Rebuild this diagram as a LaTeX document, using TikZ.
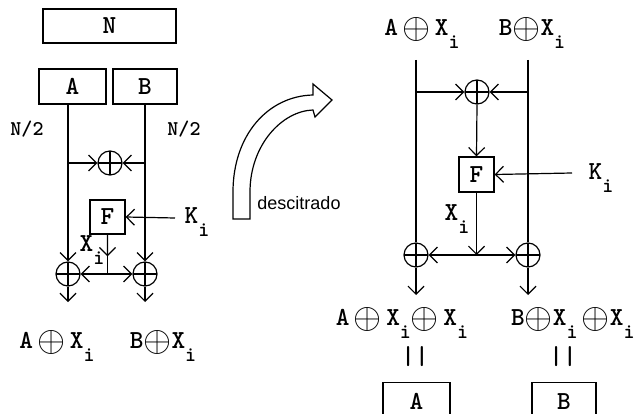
\documentclass[tikz,border=0pt]{standalone}
\usepackage{fontspec}
\newfontfamily\sansf{Liberation Sans}
\usepackage{tikz}
\usetikzlibrary{arrows.meta,calc,positioning}
\newcommand{\xorsym}{\raisebox{-0.14em}{\scalebox{1.45}{$\oplus$}}}
\newcommand{\subi}{\raisebox{-0.5em}{\fontsize{21}{21}\selectfont i}}
\tikzset{
  blkbox/.style={draw, line width=1.3pt, minimum width=#1, minimum height=35pt, inner sep=0pt, font=\ttfamily\bfseries\fontsize{26}{26}\selectfont},
  xorc/.style={draw, circle, line width=1.2pt, minimum size=24pt, inner sep=0pt,
    path picture={\draw[line width=1.2pt] (path picture bounding box.north) -- (path picture bounding box.south)
      (path picture bounding box.west) -- (path picture bounding box.east);}},
  txt/.style={inner sep=0pt, font=\ttfamily\bfseries\fontsize{26}{26}\selectfont},
  lbl/.style={inner sep=0pt, font=\ttfamily\bfseries\fontsize{21}{21}\selectfont},
  wire/.style={line width=1.2pt},
  arr/.style={-{Straight Barb[length=8pt,width=16pt]}, line width=1.2pt}
}
\begin{document}
\begin{tikzpicture}[x=1pt,y=-1pt]
  \useasboundingbox (0,0) rectangle (634,414);
  \node[blkbox=133pt, minimum height=34pt] (n) at (109.5,26) {N};
  \node[blkbox=67pt] (a) at (72.5,86.5) {A};
  \node[blkbox=64pt] (b) at (145,86.5) {B};
  \node[lbl] (nl) at (27,129) {N/2};
  \node[lbl] (nr) at (184,129) {N/2};
  \coordinate (la) at (68,104);
  \coordinate (lb) at (145,104);
  \node[xorc] (x1) at (110,163) {};
  \coordinate (x1l) at (68,163);
  \coordinate (x1r) at (145,163);
  \node[blkbox=35pt, minimum height=34pt] (f1) at (107.5,217) {F};
  \coordinate (k1s) at (175,218);
  \node[txt] (k1) at (197,222) {K\subi};
  \node[xorc] (xa) at (68,274) {};
  \node[xorc] (xb) at (145,274) {};
  \coordinate (j1) at (f1.south |- xa);
  \coordinate (j1m) at ($(f1.south)!0.55!(j1)$);
  \node[txt] (xi1) at (92,250) {X\subi};
  \coordinate (oa) at (68,302);
  \coordinate (ob) at (145,302);
  \node[txt] (ra) at (57,346) {A\,\xorsym\,X\subi};
  \node[txt] (rb) at (163,346) {B\xorsym X\subi};
  \draw[arr] (la) -- (xa.north);
  \draw[arr] (lb) -- (xb.north);
  \draw[arr] (x1l) -- (x1.west);
  \draw[arr] (x1r) -- (x1.east);
  \draw[arr] (k1s) -- (f1.east);
  \draw[wire] (f1.south) -- (j1);
  \draw[arr] (f1.south) -- (j1m);
  \draw[arr] (j1) -- (xa.east);
  \draw[arr] (j1) -- (xb.west);
  \draw[arr] (xa.south) -- (oa);
  \draw[arr] (xb.south) -- (ob);

  \draw[line width=1.2pt] (233,219) -- (233,192) .. controls (233,135) and (268,96) .. (313,95)
    -- (313,84) -- (332,100) -- (315,117) -- (313,110)
    .. controls (282,111) and (250,145) .. (250,192) -- (250,219) -- cycle;
  \node[inner sep=0pt, font=\sansf\fontsize{18}{18}\selectfont] (dec) at (299,203) {descitrado};

  \node[txt] (ta) at (422,33) {A\,\xorsym\,X\subi};
  \node[txt] (tb) at (532,33) {B\xorsym X\subi};
  \coordinate (ra0) at (416,60);
  \coordinate (rb0) at (528,60);
  \node[xorc] (x2) at (477,92) {};
  \coordinate (x2l) at (416,92);
  \coordinate (x2r) at (528,92);
  \node[blkbox=35pt] (f2) at (476.5,174.5) {F};
  \coordinate (k2s) at (572,173);
  \node[txt] (k2) at (601,178) {K\subi};
  \node[txt] (xi2) at (457,219) {X\subi};
  \node[xorc] (xc) at (416,255) {};
  \node[xorc] (xd) at (528,255) {};
  \coordinate (j2) at (f2.south |- xc);
  \coordinate (oc) at (416,295);
  \coordinate (od) at (528,295);
  \node[txt] (rc) at (402,323) {A\,\xorsym\,X\subi\xorsym\,X\subi};
  \node[txt, anchor=west] (rd) at (511,323) {B\xorsym X\subi\,\xorsym X\subi};
  \node[txt] (eqa) at (415,357) {||};
  \node[txt] (eqb) at (563,357) {||};
  \node[blkbox=67pt, minimum height=38pt, anchor=north] (ba) at (416.5,382) {A};
  \node[blkbox=64pt, minimum height=38pt, anchor=north] (bb) at (564,382) {B};
  \draw[wire] (ra0) -- (xc.north);
  \draw[wire] (rb0) -- (xd.north);
  \draw[arr] (xc.south) -- (oc);
  \draw[arr] (xd.south) -- (od);
  \draw[arr] (x2l) -- (x2.west);
  \draw[arr] (x2r) -- (x2.east);
  \draw[arr] (x2.south) -- (f2.north);
  \draw[arr] (k2s) -- (f2.east);
  \draw[arr] (f2.south) -- (j2);
  \draw[arr] (j2) -- (xc.east);
  \draw[arr] (j2) -- (xd.west);
\end{tikzpicture}
\end{document}
